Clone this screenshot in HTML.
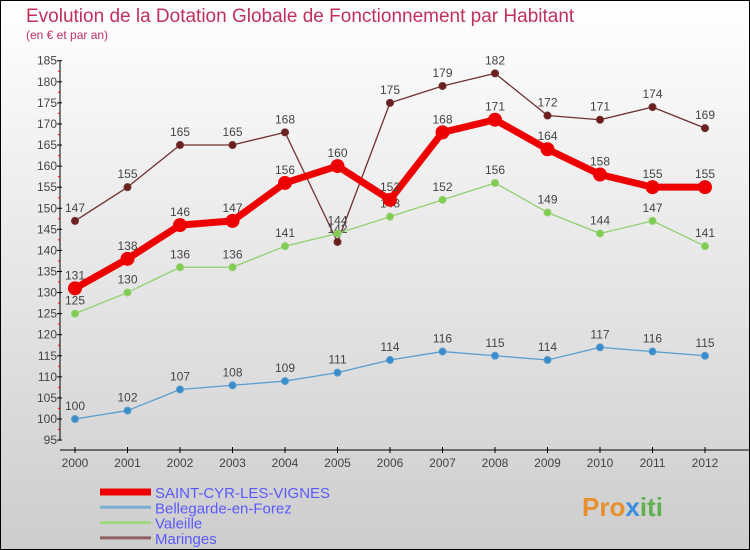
<!DOCTYPE html>
<html><head><meta charset="utf-8"><style>
body{margin:0}
svg{display:block;font-family:"Liberation Sans",sans-serif}
</style></head><body>
<svg width="750" height="550" viewBox="0 0 750 550" xmlns="http://www.w3.org/2000/svg">
<defs><linearGradient id="bg" x1="0" y1="0" x2="0" y2="1"><stop offset="0" stop-color="#ffffff"/><stop offset="1" stop-color="#cdcdcd"/></linearGradient></defs>
<rect x="0.5" y="0.5" width="749" height="549" fill="url(#bg)" stroke="#000"/>
<text x="26" y="22" font-size="19" fill="#c0305a">Evolution de la Dotation Globale de Fonctionnement par Habitant</text>
<text x="26" y="39" font-size="12" fill="#c0305a">(en € et par an)</text>
<g id="axes"></g>
<g id="series"></g>
<g id="legend"></g>
<text x="582" y="516" font-size="26" font-weight="bold" fill="#e89030">Pro<tspan fill="#3a8fe0">x</tspan><tspan fill="#60b050">iti</tspan></text>
</svg>
<script>
const years=[2000,2001,2002,2003,2004,2005,2006,2007,2008,2009,2010,2011,2012];
const yTicks=[95,100,105,110,115,120,125,130,135,140,145,150,155,160,165,170,175,180,185];
const saint=[131,138,146,147,156,160,152,168,171,164,158,155,155];
const belle=[100,102,107,108,109,111,114,116,115,114,117,116,115];
const valeille=[125,130,136,136,141,144,148,152,156,149,144,147,141];
const maringes=[147,155,165,165,168,142,175,179,182,172,171,174,169];
const NS="http://www.w3.org/2000/svg";
const X=i=>75+i*52.5;
const Y=v=>419-(v-100)*4.215;
function mk(tag,attrs,parent,txt){const e=document.createElementNS(NS,tag);for(const k in attrs)e.setAttribute(k,attrs[k]);if(txt!==undefined)e.textContent=txt;parent.appendChild(e);return e;}
const ax=document.getElementById('axes');
const yl=mk('line',{x1:60,y1:Y(185),x2:60,y2:Y(95),stroke:'#000'},ax);


yTicks.forEach(t=>{
  mk('line',{x1:57,y1:Y(t),x2:62,y2:Y(t),stroke:'#000'},ax);
  if(t<185)mk('line',{x1:58,y1:Y(t+2.5),x2:60,y2:Y(t+2.5),stroke:'#f00'},ax);
  const tx=mk('text',{x:57,y:Y(t)+4,'text-anchor':'end','font-size':12,fill:'#444'},ax,t);
  
  
});
const xl=mk('line',{x1:60,y1:450,x2:750,y2:450,stroke:'#000'},ax);


years.forEach((yr,i)=>{
  mk('line',{x1:X(i),y1:447,x2:X(i),y2:453,stroke:'#000'},ax);
  const tx=mk('text',{x:X(i),y:467,'text-anchor':'middle','font-size':12,fill:'#444'},ax,yr);
  
  
});
const sg=document.getElementById('series');
function draw(name,data,color,dot,w,r){
  const g=mk('g',{},sg);
  
  
  const line=mk('polyline',{points:data.map((v,i)=>X(i)+','+Y(v)).join(' '),fill:'none',stroke:color,'stroke-width':w,'stroke-linejoin':'round'},g);
  
  
  data.forEach((v,i)=>{
    const c=mk('circle',{cx:X(i),cy:Y(v),r:r,fill:dot,stroke:color,'stroke-width':1},g);
    
    
    const t=mk('text',{x:X(i),y:Y(v)-9,'text-anchor':'middle','font-size':12,fill:'#444'},g,v);
    
    
  });
}
draw('maringes',maringes,'#703030','#6b1f1f',1.3,3.5);
draw('valeille',valeille,'#90d070','#80cc50',1.3,3.5);
draw('bellegarde',belle,'#5a9ed0','#3a8cc8',1.3,3.5);
draw('saint-cyr',saint,'#ee0000','#ee0000',7,6.5);
const lg=document.getElementById('legend');
const items=[['SAINT-CYR-LES-VIGNES','#ee0000',7],['Bellegarde-en-Forez','#7aaed0',3],['Valeille','#a0d880',3],['Maringes','#906060',3]];
items.forEach((it,k)=>{
  const y=492+k*15.3;
  const g=mk('g',{},lg);
  
  
  mk('line',{x1:100,y1:y,x2:151,y2:y,stroke:it[1],'stroke-width':it[2]},g);
  mk('text',{x:155,y:y+6,'font-size':15,fill:'#5a5aff'},g,it[0]);
});
</script>
</body></html>
